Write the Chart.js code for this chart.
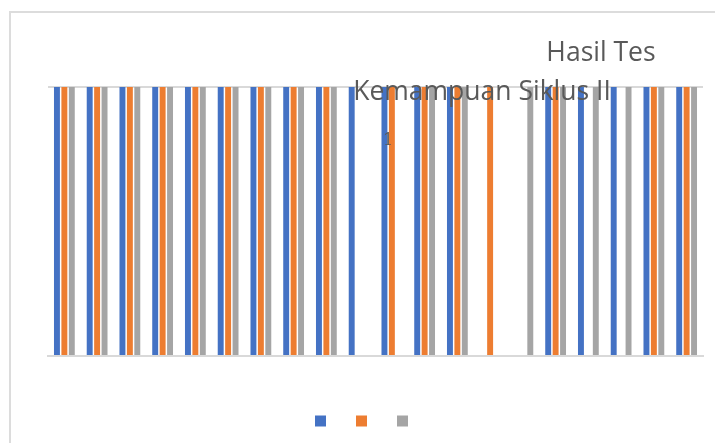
<!DOCTYPE html>
<html>
<head>
<meta charset="utf-8">
<script src="https://cdn.jsdelivr.net/npm/chart.js@4"></script>
<style>
  html, body { margin: 0; padding: 0; background: #ffffff; overflow: hidden; }
  #frame { position: absolute; left: 9px; top: 11px; width: 760px; height: 480px; border: 2px solid #dcdcdc; box-sizing: border-box; }
  #wrap { position: absolute; left: 0; top: 0; width: 715px; height: 443px; }
</style>
</head>
<body>
<div id="frame"></div>
<div id="wrap"><canvas id="c" width="715" height="443"></canvas></div>
<script>
// ---- data ----
const categories = ["1","2","3","4","5","6","7","8","9","10","11","12","13","14","15","16","17","18","19","20"];
const seriesBlue   = [1,1,1,1,1,1,1,1,1,1,1,1,1,null,null,1,1,1,1,1];
const seriesOrange = [1,1,1,1,1,1,1,1,1,null,1,1,1,1,null,1,null,null,1,1];
const seriesGray   = [1,1,1,1,1,1,1,1,1,null,null,1,1,null,1,1,1,1,1,1];
const seriesNames  = ["", "", ""];
const titleLines   = ["Hasil Tes", "Kemampuan Siklus II"];
const noteText     = "1";
const yTicks       = [0, 1];

const titlePlugin = {
  id: 'overlayTitle',
  afterDatasetsDraw(chart) {
    const ctx = chart.ctx;
    ctx.save();
    ctx.fillStyle = '#595959';
    ctx.textAlign = 'center';
    ctx.textBaseline = 'alphabetic';
    ctx.font = '26.5px "Open Sans"';
    ctx.fillText(titleLines[0], 601, 61);
    ctx.fillText(titleLines[1], 482, 100);
    ctx.font = '16px "DejaVu Serif"';
    ctx.fillText(noteText, 388, 145);
    ctx.restore();
  }
};

new Chart(document.getElementById('c'), {
  type: 'bar',
  data: {
    labels: categories,
    datasets: [
      { label: seriesNames[0], data: seriesBlue,   backgroundColor: '#4472C4' },
      { label: seriesNames[1], data: seriesOrange, backgroundColor: '#ED7D31' },
      { label: seriesNames[2], data: seriesGray,   backgroundColor: '#A5A5A5' }
    ]
  },
  options: {
    responsive: false,
    animation: false,
    events: [],
    categoryPercentage: 0.68,
    barPercentage: 0.8,
    layout: { padding: { left: 26, right: 12, top: 87, bottom: 6 } },
    plugins: {
      title: { display: false },
      tooltip: { enabled: false },
      legend: {
        display: true,
        position: 'bottom',
        labels: { boxWidth: 11, boxHeight: 11, padding: 24, font: { size: 12, family: 'Open Sans' }, color: '#595959' }
      }
    },
    scales: {
      x: {
        grid: { display: false, drawTicks: false },
        border: { display: true, color: '#d9d9d9', width: 2 },
        ticks: { display: false },
        afterFit: (scale) => { scale.height = 35; }
      },
      y: {
        min: yTicks[0],
        max: yTicks[yTicks.length - 1],
        grid: { color: '#d9d9d9', lineWidth: 2, drawTicks: false },
        border: { display: false },
        ticks: { display: false, stepSize: 1 },
        afterFit: (scale) => { scale.width = 22; }
      }
    }
  },
  plugins: [titlePlugin]
});
</script>
</body>
</html>
